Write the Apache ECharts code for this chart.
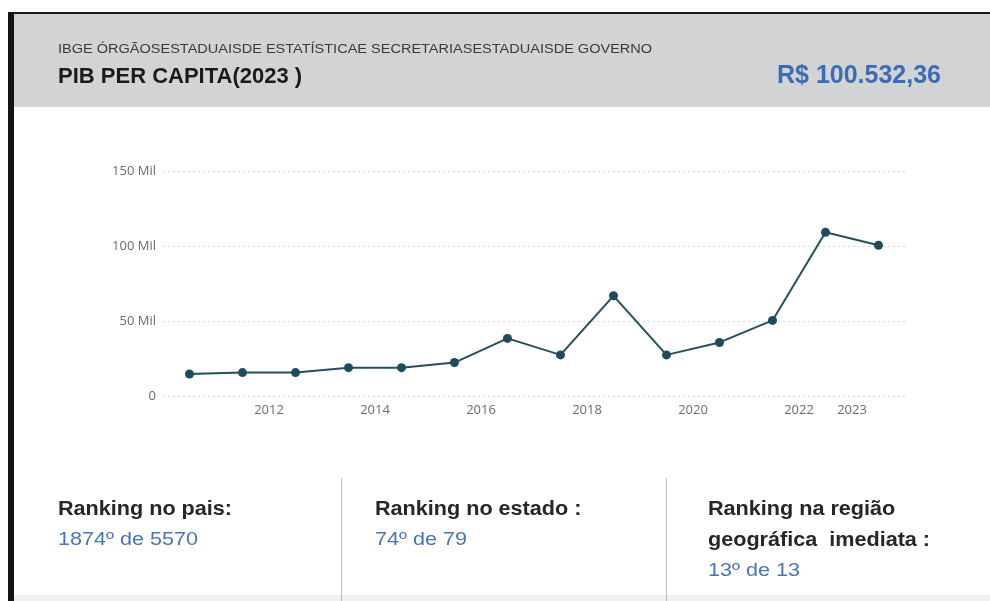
<!DOCTYPE html>
<html>
<head>
<meta charset="utf-8">
<script src="https://cdn.jsdelivr.net/npm/echarts@6/dist/echarts.min.js"></script>
<style>
html,body{margin:0;padding:0;background:#fff;}
#chart{width:990px;height:601px;}
</style>
</head>
<body>
<div id="chart"></div>
<script>
// ---- data ----
const years = [2010, 2011, 2012, 2013, 2014, 2015, 2016, 2017, 2018, 2019, 2020, 2021, 2022, 2023];
const pibPerCapita = [14700, 15600, 15600, 18900, 18900, 22300, 38400, 27400, 66800, 27400, 35700, 50400, 109200, 100532.36];
const yTicks = [0, 50000, 100000, 150000];
const xLabelYears = [2012, 2014, 2016, 2018, 2020, 2022, 2023];
const sourceText = 'IBGE ÓRGÃOSESTADUAISDE ESTATÍSTICAE SECRETARIASESTADUAISDE GOVERNO';
const titleText = 'PIB PER CAPITA(2023 )';
const headlineValue = 'R$ 100.532,36';
const rankLabels = ['Ranking no pais:', 'Ranking no estado :', 'Ranking na região\ngeográfica  imediata :'];
const rankValues = ['1874º de 5570', '74º de 79', '13º de 13'];

const chart = echarts.init(document.getElementById('chart'), null, {renderer: 'canvas'});

const seriesData = years.map((y, i) => [y + 0.5, pibPerCapita[i]]);

const FONT = '"Liberation Sans", Arial, sans-serif';
const AXFONT = '"Open Sans", "DejaVu Sans", sans-serif';

const graphics = [
  // header band
  {type: 'rect', shape: {x: 14, y: 13, width: 976, height: 94}, style: {fill: '#d1d3d5'}, z: 0},
  // top border
  {type: 'rect', shape: {x: 8, y: 12, width: 982, height: 2}, style: {fill: '#1a1a1a'}, z: 1},
  // left border
  {type: 'rect', shape: {x: 8, y: 12, width: 6, height: 589}, style: {fill: '#141414'}, z: 1},
  // bottom faint band
  {type: 'rect', shape: {x: 14, y: 595, width: 976, height: 6}, style: {fill: '#f1f1f1'}, z: 0},
  // header texts
  {type: 'text', x: 58, y: 50, scaleX: 1.21, style: {text: sourceText, font: '12px ' + FONT, fill: '#3a3a3a', textVerticalAlign: 'middle'}, z: 2},
  {type: 'text', x: 58, y: 77, style: {text: titleText, font: 'bold 22px ' + FONT, fill: '#1b1b1b', textVerticalAlign: 'middle'}, z: 2},
  {type: 'text', x: 941, y: 76, style: {text: headlineValue, font: 'bold 25px ' + FONT, fill: '#3b6cb4', textAlign: 'right', textVerticalAlign: 'middle'}, z: 2},
  // dividers
  {type: 'rect', shape: {x: 341, y: 478, width: 1, height: 123}, style: {fill: '#b9bcbf'}, z: 1},
  {type: 'rect', shape: {x: 666, y: 478, width: 1, height: 123}, style: {fill: '#b9bcbf'}, z: 1}
];

const colX = [58, 375, 708];
rankLabels.forEach((t, i) => {
  const lines = t.split('\n');
  lines.forEach((ln, j) => {
    graphics.push({type: 'text', x: colX[i], y: 509 + j * 31, scaleX: 1.08,
      style: {text: ln, font: 'bold 20px ' + FONT, fill: '#262626', textVerticalAlign: 'middle'}, z: 2});
  });
  graphics.push({type: 'text', x: colX[i], y: 540 + (lines.length - 1) * 31, scaleX: 1.2,
    style: {text: rankValues[i], font: '18px ' + FONT, fill: '#4a75b3', textVerticalAlign: 'middle'}, z: 2});
});

const option = {
  animation: false,
  backgroundColor: '#ffffff',
  grid: {left: 163, right: 85, top: 171, bottom: 205, containLabel: false},
  xAxis: {
    type: 'value', min: 2010, max: 2024, interval: 1,
    axisLine: {show: false}, axisTick: {show: false}, splitLine: {show: false},
    axisLabel: {
      margin: 8, color: '#6b6b6b', fontSize: 13, fontFamily: AXFONT,
      formatter: v => xLabelYears.indexOf(v) >= 0 ? String(v) : ''
    }
  },
  yAxis: {
    type: 'value', min: 0, max: 150000, interval: 50000,
    axisLine: {show: false}, axisTick: {show: false},
    splitLine: {show: true, lineStyle: {color: '#d6d6d6', type: [2, 3], width: 1}},
    axisLabel: {
      margin: 7, color: '#6b6b6b', fontSize: 13, fontFamily: AXFONT,
      formatter: v => v === 0 ? '0' : (v / 1000) + ' Mil'
    }
  },
  series: [{
    type: 'line', data: seriesData,
    symbol: 'circle', symbolSize: 9,
    lineStyle: {color: '#254f5e', width: 2},
    itemStyle: {color: '#1f4b5b'}
  }],
  graphic: graphics
};
chart.setOption(option);
</script>
</body>
</html>
